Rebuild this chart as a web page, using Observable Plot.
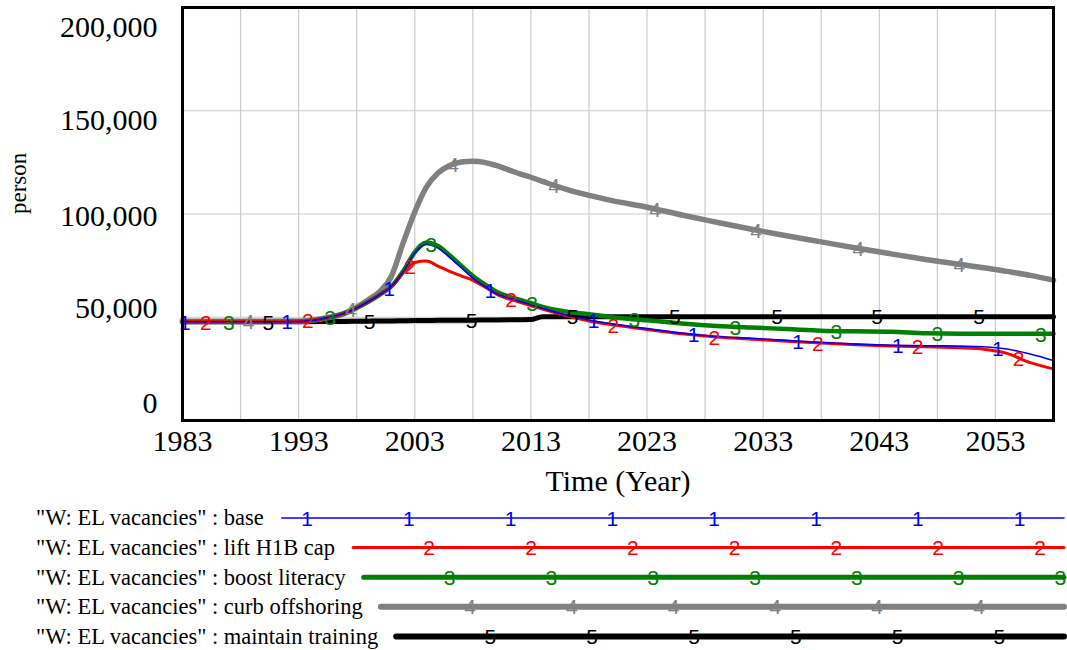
<!DOCTYPE html>
<html>
<head>
<meta charset="utf-8">
<script src="https://cdn.jsdelivr.net/npm/d3@7"></script>
<script src="https://cdn.jsdelivr.net/npm/@observablehq/plot@0.6"></script>
<style>
  body { margin: 0; background: #fff; }
  #chart svg, #legend svg { display: block; }
</style>
</head>
<body>
<div id="chart"></div>
<div id="legend"></div>
<script>
// ---- data ----
const years = [1983, 1990, 1993, 1995, 1997, 1999, 2000, 2001, 2002, 2003, 2004, 2005, 2006, 2007, 2008, 2009, 2010, 2012, 2013, 2014, 2016, 2018, 2020, 2023, 2026, 2029, 2032, 2035, 2038, 2041, 2044, 2047, 2050, 2052, 2054, 2056, 2058];

const base = [47800, 47800, 47900, 49200, 52000, 57500, 61000, 65000, 72000, 81000, 85300, 83500, 79000, 74000, 69000, 65000, 61500, 57800, 56000, 54300, 51200, 48700, 46800, 44500, 42300, 40700, 39800, 38800, 37800, 37000, 36400, 36200, 36000, 35700, 34600, 32200, 29000];

const liftH1BCap = [47800, 47800, 47900, 49200, 52000, 57500, 61000, 65000, 71500, 76500, 77200, 74800, 72200, 70000, 67900, 64800, 61300, 57300, 55600, 54000, 50800, 48200, 46400, 44100, 42000, 40400, 39400, 38400, 37500, 36700, 36100, 35700, 35200, 34500, 32500, 28000, 25000];

const boostLiteracy = [47800, 47800, 47900, 49200, 52000, 57500, 61000, 65000, 72300, 81500, 86200, 84500, 80000, 75000, 70000, 66000, 62500, 58500, 56800, 55000, 52800, 51500, 50000, 48500, 47000, 45800, 45000, 44300, 43500, 43200, 43000, 42200, 42000, 42000, 42000, 42000, 42000];

const curbOffshoring = [48000, 48000, 48100, 49300, 52000, 58500, 62500, 70000, 86000, 101000, 113000, 119800, 123500, 125200, 125600, 125000, 123500, 119500, 117800, 115800, 112000, 109000, 106500, 103300, 99500, 96000, 92600, 89500, 86500, 83500, 80700, 78000, 75500, 74000, 72200, 70300, 68000];

const maintainTraining = [47800, 47800, 47800, 47900, 48000, 48100, 48200, 48200, 48300, 48400, 48400, 48500, 48500, 48600, 48600, 48700, 48700, 48800, 48900, 50300, 50300, 50300, 50300, 50300, 50300, 50300, 50300, 50300, 50300, 50300, 50300, 50300, 50300, 50300, 50300, 50300, 50300];

// faint band drawn under the lines at the start
const bandYears = [1983, 2008];
const bandLevel = 48300;

const seriesNames = ["base", "lift H1B cap", "boost literacy", "curb offshoring", "maintain training"];
const seriesLabels = ["1", "2", "3", "4", "5"];
const seriesColors = ["#0000ff", "#ff0000", "#008000", "#808080", "#000000"];

// where the numbered markers sit along each line (years)
const markerYearsBase = [1983.2, 1992.0, 2000.8, 2009.5, 2018.4, 2027.0, 2036.0, 2044.6, 2053.2];
const markerYearsLift = [1985.0, 1993.8, 2002.6, 2011.3, 2020.1, 2028.8, 2037.7, 2046.3, 2055.0];
const markerYearsBoost = [1987.0, 1995.7, 2004.4, 2013.1, 2021.9, 2030.6, 2039.3, 2048.0, 2056.9];
const markerYearsCurb = [1988.7, 1997.5, 2006.3, 2015.0, 2023.7, 2032.4, 2041.2, 2049.9];
const markerYearsMaintain = [1990.4, 1999.1, 2007.9, 2016.6, 2025.4, 2034.2, 2042.8, 2051.6];

const xTicks = [1983, 1993, 2003, 2013, 2023, 2033, 2043, 2053];
const yTicks = [0, 50000, 100000, 150000, 200000];
const xTitle = "Time (Year)";
const yTitle = "person";
const legendPrefix = "\"W: EL vacancies\" : ";

// ---- build tables ----
const allValues = [base, liftH1BCap, boostLiteracy, curbOffshoring, maintainTraining];
const allMarkerYears = [markerYearsBase, markerYearsLift, markerYearsBoost, markerYearsCurb, markerYearsMaintain];
const rows = allValues.map(vals => years.map((yr, j) => ({year: yr, value: vals[j]})));

function interp(vals, t) {
  for (let j = 0; j < years.length - 1; j++) {
    if (t >= years[j] && t <= years[j + 1]) {
      const f = (t - years[j]) / (years[j + 1] - years[j]);
      return vals[j] + f * (vals[j + 1] - vals[j]);
    }
  }
  return vals[vals.length - 1];
}
const markerRows = allValues.map((vals, i) => allMarkerYears[i].map(t => ({year: t, value: interp(vals, t)})));
const bandRows = bandYears.map(t => ({year: t, value: bandLevel}));

const chartWidths = [1.6, 3, 4.5, 5.5, 5];
const drawOrder = [4, 3, 2, 1, 0];

const serif = "Liberation Serif, Times New Roman, serif";
const sans = "Liberation Sans, Arial, sans-serif";
const gridYears = d3.range(1983, 2059, 5);
const gridValues = d3.range(0, 200001, 50000);
const yLabelDy = [-17, -9, 2, 10, 20];

const marks = [
  Plot.ruleX(gridYears, {stroke: "#cccccc", strokeWidth: 1.2}),
  Plot.ruleY(gridValues, {stroke: "#cccccc", strokeWidth: 1.2}),
  Plot.line(bandRows, {x: "year", y: "value", stroke: "#d4d4d4", strokeWidth: 7}),
  ...drawOrder.map(i => Plot.line(rows[i], {x: "year", y: "value", stroke: seriesColors[i], strokeWidth: chartWidths[i], strokeLinejoin: "round", curve: "monotone-x"})),
  ...drawOrder.map(i => Plot.text(markerRows[i], {x: "year", y: "value", text: () => seriesLabels[i], fill: seriesColors[i], fontFamily: sans, fontSize: 21, dy: 1})),
  Plot.frame({stroke: "#000", strokeWidth: 3}),
  ...yTicks.map((v, i) => Plot.text([v], {y: d => d, frameAnchor: "left", text: d => d3.format(",")(d), textAnchor: "end", lineAnchor: "middle", dx: -25, dy: yLabelDy[i], fontFamily: serif, fontSize: 30, fill: "#000"})),
  Plot.text(xTicks, {x: d => d, frameAnchor: "bottom", lineAnchor: "middle", text: d => String(d), dy: 21, fontFamily: serif, fontSize: 30, fill: "#000"}),
  Plot.text([xTitle], {frameAnchor: "bottom", lineAnchor: "middle", text: d => d, dy: 61, fontFamily: serif, fontSize: 30, fill: "#000"}),
  Plot.text([yTitle], {frameAnchor: "left", lineAnchor: "middle", text: d => d, dx: -164, rotate: -90, fontFamily: serif, fontSize: 23, fill: "#000"})
];

const chart = Plot.plot({
  width: 1067,
  height: 500,
  marginLeft: 182,
  marginRight: 14,
  marginTop: 7,
  marginBottom: 80,
  x: {domain: [1983, 2058], axis: null},
  y: {domain: [0, 200000], axis: null},
  style: {background: "#fff", fontFamily: serif},
  marks
});
document.getElementById("chart").appendChild(chart);

// ---- legend below the chart ----
const legendWidths = [1.6, 3, 5, 6, 6];
const lsvg = d3.select("#legend").append("svg").attr("width", 1067).attr("height", 150);
const rowY0 = 18, rowStep = 29.6, textX = 36, lineEnd = 1064;
const mk0 = 307, mkShift = 20.4, mkStep = 101.8;
seriesNames.forEach((name, i) => {
  const y = rowY0 + rowStep * i;
  const t = lsvg.append("text")
    .attr("x", textX).attr("y", y).attr("dy", "0.33em")
    .attr("font-family", serif).attr("font-size", 22.5).attr("fill", "#000")
    .text(legendPrefix + name);
  const start = textX + t.node().getComputedTextLength() + 18;
  lsvg.append("line")
    .attr("x1", start).attr("x2", lineEnd).attr("y1", y).attr("y2", y)
    .attr("stroke", seriesColors[i]).attr("stroke-width", legendWidths[i]).attr("stroke-linecap", "round");
  for (let k = 0; k < 12; k++) {
    const mx = mk0 + mkShift * i + mkStep * k;
    if (mx < start + 5 || mx > lineEnd) continue;
    lsvg.append("text")
      .attr("x", mx).attr("y", y).attr("dy", "0.36em").attr("text-anchor", "middle")
      .attr("font-family", sans).attr("font-size", 21).attr("fill", seriesColors[i])
      .text(seriesLabels[i]);
  }
});
</script>
</body>
</html>
